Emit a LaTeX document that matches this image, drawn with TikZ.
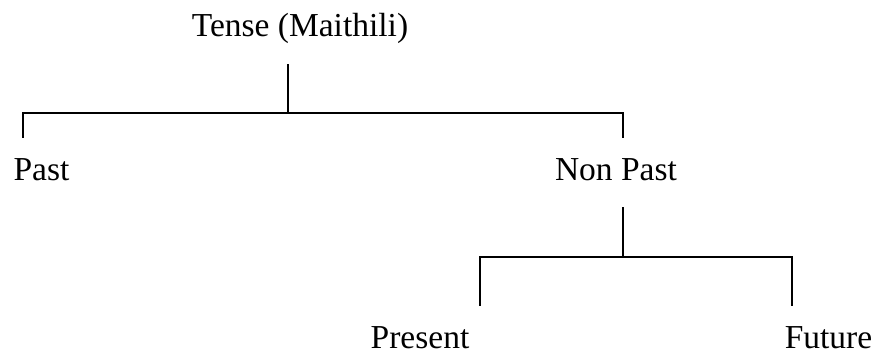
\documentclass[tikz,border=0pt]{standalone}
\usepackage{fontspec}
\setmainfont{Liberation Serif}
\begin{document}
\begin{tikzpicture}[x=1pt,y=-1pt,
  label/.style={inner sep=0pt,anchor=base,font=\fontsize{33.5}{40}\selectfont},
  branch/.style={line width=1.8pt,line cap=rect}]
\useasboundingbox (0,0) rectangle (882,352);

% category labels
\node[label] (tense)   at (300,37)   {Tense (Maithili)};
\node[label] (past)    at (41.5,181) {Past};
\node[label] (nonpast) at (616,181)  {Non Past};
\node[label] (present) at (420,348)  {Present};
\node[label] (future)  at (828.5,348){Future};

% connector ends of the first split
\coordinate (tenseStem) at (288,65);
\coordinate (tenseFork) at (288,113);
\coordinate (pastTip)   at (23,137);
\coordinate (npTip)     at (623,137);

% connector ends of the second split
\coordinate (npStem)    at (623,208);
\coordinate (npFork)    at (623,257);
\coordinate (presTip)   at (480,305);
\coordinate (futTip)    at (792,305);

\draw[branch] (tenseStem) -- (tenseFork);
\draw[branch] (pastTip) |- (tenseFork) -| (npTip);
\draw[branch] (npStem) -- (npFork);
\draw[branch] (presTip) |- (npFork) -| (futTip);
\end{tikzpicture}
\end{document}
